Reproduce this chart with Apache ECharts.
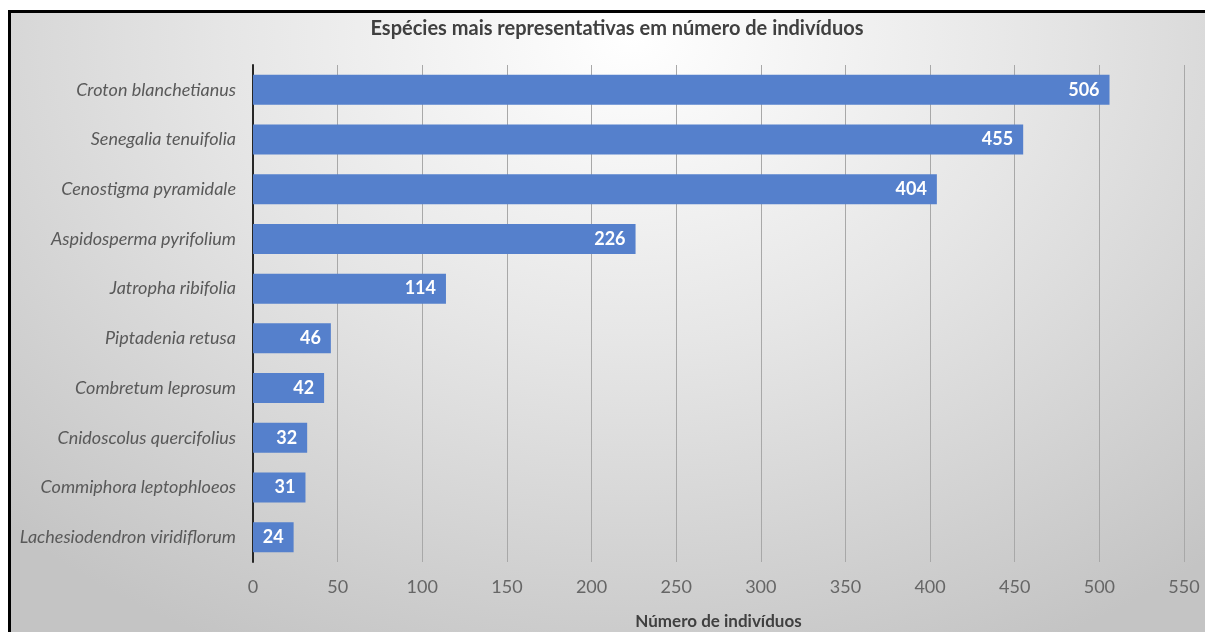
<!DOCTYPE html>
<html>
<head>
<meta charset="utf-8">
<script src="https://cdn.jsdelivr.net/npm/echarts@6/dist/echarts.min.js"></script>
<style>
  html, body { margin: 0; padding: 0; background: #ffffff; }
  body { width: 1205px; height: 632px; position: relative; overflow: hidden; }
  #frame {
    position: absolute; left: 8px; top: 10px; right: 0; bottom: 0;
    border-top: 3px solid #000; border-left: 3px solid #000;
    background: radial-gradient(ellipse 75% 110% at 52% 4%, #ffffff 0%, #e6e6e6 45%, #c4c4c4 100%);
  }
  #chart { position: absolute; left: 0; top: 0; width: 1205px; height: 632px; }
</style>
</head>
<body>
<div id="frame"></div>
<div id="chart"></div>
<script>
// Species ranked by number of individuals
const species = [
  'Croton blanchetianus',
  'Senegalia tenuifolia',
  'Cenostigma pyramidale',
  'Aspidosperma pyrifolium',
  'Jatropha ribifolia',
  'Piptadenia retusa',
  'Combretum leprosum',
  'Cnidoscolus quercifolius',
  'Commiphora leptophloeos',
  'Lachesiodendron viridiflorum'
];
const individuals = [506, 455, 404, 226, 114, 46, 42, 32, 31, 24];

const titleText = 'Espécies mais representativas em número de indivíduos';
const xAxisName = 'Número de indivíduos';

const font = 'Lato, "Open Sans", sans-serif';

const chart = echarts.init(document.getElementById('chart'), null, { renderer: 'canvas' });
chart.setOption({
  backgroundColor: 'transparent',
  animation: false,
  title: {
    text: titleText,
    left: 612,
    textAlign: 'center',
    top: 14,
    textStyle: { fontFamily: font, fontSize: 20, fontWeight: 'bold', color: '#404040' }
  },
  grid: { left: 253, right: 21, top: 65, bottom: 70, containLabel: false, outerBoundsMode: 'none' },
  xAxis: {
    type: 'value',
    min: 0,
    max: 550,
    interval: 50,
    name: xAxisName,
    nameLocation: 'middle',
    nameGap: 51,
    nameTextStyle: { fontFamily: font, fontSize: 17, fontWeight: 'bold', color: '#404040' },
    axisLine: { show: false },
    axisTick: { show: false },
    axisLabel: { fontFamily: font, fontSize: 18, color: '#666666', margin: 16 },
    splitLine: { show: true, lineStyle: { color: '#a8a8a8', width: 1 } }
  },
  yAxis: {
    type: 'category',
    inverse: true,
    data: species,
    axisLine: { show: true, lineStyle: { color: '#262626', width: 2 } },
    axisTick: { show: false },
    axisLabel: { fontFamily: font, fontSize: 18, fontStyle: 'italic', color: '#595959', margin: 17 }
  },
  series: [{
    type: 'bar',
    data: individuals,
    barWidth: 30,
    itemStyle: { color: '#5580cc' },
    label: {
      show: true,
      position: 'insideRight',
      distance: 10,
      fontFamily: font,
      fontSize: 18,
      fontWeight: 'bold',
      color: '#ffffff'
    }
  }]
});
</script>
</body>
</html>
